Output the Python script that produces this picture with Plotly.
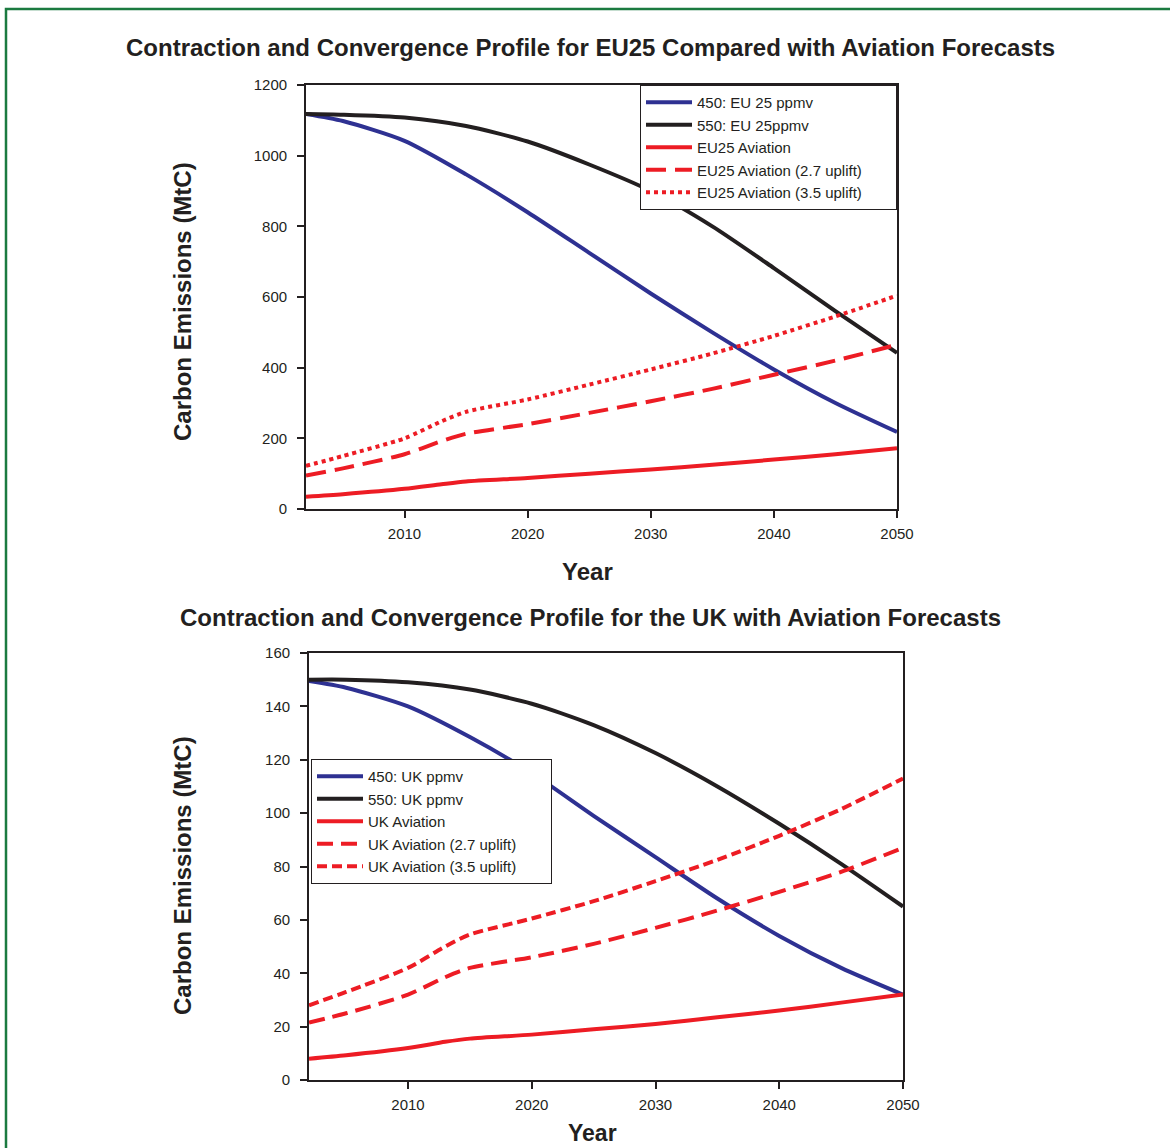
import plotly.graph_objects as go

W, H = 1170, 1148

# ---------------- data ----------------
years_eu_cc = [2002, 2005, 2010, 2015, 2020, 2025, 2030, 2035, 2040, 2045, 2050]
eu_450 = [1118, 1098, 1042, 947, 840, 725, 610, 500, 395, 300, 218]
eu_550 = [1118, 1116, 1108, 1084, 1040, 975, 900, 800, 682, 560, 442]

years_eu_av = [2002, 2005, 2010, 2013, 2015, 2020, 2025, 2030, 2035, 2040, 2045, 2050]
eu_avi = [35, 42, 57, 70, 78, 88, 100, 112, 125, 140, 155, 172]
eu_avi27 = [95, 115, 155, 192, 213, 240, 272, 305, 340, 380, 420, 465]
eu_avi35 = [122, 150, 200, 248, 275, 310, 352, 395, 440, 490, 545, 604]

years_uk_cc = [2002, 2005, 2010, 2015, 2020, 2025, 2030, 2035, 2040, 2045, 2050]
uk_450 = [149.5, 147, 140, 128.5, 115, 99, 83.5, 68, 54, 42, 32]
uk_550 = [150, 150, 149, 146.3, 141, 133, 122.5, 110, 96, 81, 65]

years_uk_av = [2002, 2005, 2010, 2013, 2015, 2020, 2025, 2030, 2035, 2040, 2045, 2050]
uk_avi = [8, 9.3, 12, 14.3, 15.5, 17, 19, 21, 23.5, 26, 29, 32]
uk_avi27 = [21.5, 25, 32, 38.5, 42, 46, 51, 57, 63.5, 70.5, 78, 87]
uk_avi35 = [28, 33, 42, 50, 54.5, 60.5, 67, 74.5, 82.5, 91.5, 101.5, 113]

eu_names = ["450: EU 25 ppmv", "550: EU 25ppmv", "EU25 Aviation",
            "EU25 Aviation (2.7 uplift)", "EU25 Aviation (3.5 uplift)"]
uk_names = ["450: UK ppmv", "550: UK ppmv", "UK Aviation",
            "UK Aviation (2.7 uplift)", "UK Aviation (3.5 uplift)"]

title_top = "Contraction and Convergence Profile for EU25 Compared with Aviation Forecasts"
title_bot = "Contraction and Convergence Profile for the UK with Aviation Forecasts"
y_title = "Carbon Emissions (MtC)"
x_title = "Year"

# ---------------- styles ----------------
BLUE = "#2e3192"
BLACK = "#231f20"
RED = "#ed1c24"
GREEN = "#1b7a40"
TXT = "#231f20"
FONT = "Liberation Sans, Arial, sans-serif"
LW = 4
PAD = "\u00a0" * 7   # right padding inside legend boxes


def px(x):
    return x / W


def py(y):
    return 1 - y / H


fig = go.Figure()

eu_series = [(years_eu_cc, eu_450), (years_eu_cc, eu_550), (years_eu_av, eu_avi),
             (years_eu_av, eu_avi27), (years_eu_av, eu_avi35)]
uk_series = [(years_uk_cc, uk_450), (years_uk_cc, uk_550), (years_uk_av, uk_avi),
             (years_uk_av, uk_avi27), (years_uk_av, uk_avi35)]
eu_styles = [(BLUE, "solid"), (BLACK, "solid"), (RED, "solid"),
             (RED, "20px,9px"), (RED, "dot")]
uk_styles = [(BLUE, "solid"), (BLACK, "solid"), (RED, "solid"),
             (RED, "16px,8px"), (RED, "10px,5px")]

for i, ((xs, vals), name, (c, d)) in enumerate(zip(eu_series, eu_names, eu_styles)):
    fig.add_trace(go.Scatter(
        x=xs, y=vals, name=name + PAD, mode="lines",
        line=dict(color=c, width=LW, dash=d, shape="spline", smoothing=0.7),
        xaxis="x", yaxis="y", legend="legend", legendgroup=f"eu{i}"))

for i, ((xs, vals), name, (c, d)) in enumerate(zip(uk_series, uk_names, uk_styles)):
    fig.add_trace(go.Scatter(
        x=xs, y=vals, name=name + PAD, mode="lines",
        line=dict(color=c, width=LW, dash=d, shape="spline", smoothing=0.7),
        xaxis="x2", yaxis="y2", legend="legend2", legendgroup=f"uk{i}"))

axis_common = dict(
    showgrid=False, zeroline=False, showline=True, linecolor=BLACK,
    linewidth=1.8, mirror=True, ticks="outside", ticklen=7, tickwidth=1.8,
    tickcolor=BLACK, automargin=False,
    tickfont=dict(family=FONT, size=15, color=TXT))

leg_common = dict(bgcolor="white", bordercolor=BLACK, borderwidth=1,
                  font=dict(family=FONT, size=15, color=TXT),
                  tracegroupgap=0, itemwidth=46)

fig.update_layout(
    width=W, height=H, autosize=False,
    margin=dict(l=0, r=0, t=0, b=0, pad=0, autoexpand=False),
    paper_bgcolor="white", plot_bgcolor="white",
    font=dict(family=FONT, color=TXT),
    xaxis=dict(domain=[px(306), px(897)], range=[2002, 2050],
               tick0=2010, dtick=10, anchor="y", ticklabelstandoff=3,
               **axis_common),
    yaxis=dict(domain=[py(509), py(85)], range=[0, 1200], dtick=200,
               anchor="x", ticklabelstandoff=7, **axis_common),
    xaxis2=dict(domain=[px(309), px(903)], range=[2002, 2050],
                tick0=2010, dtick=10, anchor="y2", ticklabelstandoff=3,
                **axis_common),
    yaxis2=dict(domain=[py(1080), py(653)], range=[0, 160], dtick=20,
                anchor="x2", ticklabelstandoff=7, **axis_common),
    legend=dict(x=px(897), xanchor="right", y=py(85), yanchor="top",
                **leg_common),
    legend2=dict(x=px(311), xanchor="left", y=py(759), yanchor="top",
                 **leg_common),
    showlegend=True,
)

ann = []
ann.append(dict(text=f"<b>{title_top}</b>", x=px(590), y=py(48),
                font=dict(size=24, family=FONT, color=TXT)))
ann.append(dict(text=f"<b>{title_bot}</b>", x=px(590), y=py(617),
                font=dict(size=24, family=FONT, color=TXT)))
ann.append(dict(text=f"<b>{y_title}</b>", x=px(183), y=py(302), textangle=-90,
                font=dict(size=24, family=FONT, color=TXT)))
ann.append(dict(text=f"<b>{y_title}</b>", x=px(183), y=py(876), textangle=-90,
                font=dict(size=24, family=FONT, color=TXT)))
ann.append(dict(text=f"<b>{x_title}</b>", x=px(587), y=py(571),
                font=dict(size=24, family=FONT, color=TXT)))
ann.append(dict(text=f"<b>{x_title}</b>", x=px(592), y=py(1133),
                font=dict(size=23, family=FONT, color=TXT)))
for a in ann:
    a.update(xref="paper", yref="paper", showarrow=False,
             xanchor="center", yanchor="middle")
fig.update_layout(annotations=ann)

fig.add_shape(type="rect", xref="paper", yref="paper",
              x0=px(6), x1=px(1180), y0=py(1160), y1=py(9),
              line=dict(color=GREEN, width=2.5), fillcolor="rgba(0,0,0,0)",
              layer="below")

post = ("var gd=document.getElementById('{plot_id}');"
        "var p=gd.parentElement;"
        "p.style.position='fixed';p.style.left='0px';p.style.top='0px';"
        "p.style.margin='0';"
        "document.body.style.margin='0';"
        "document.body.style.padding='0';"
        "document.body.style.overflow='hidden';"
        "document.documentElement.style.overflow='hidden';")

fig.write_html("out.html", post_script=post,
               config={"displayModeBar": False, "responsive": False})
